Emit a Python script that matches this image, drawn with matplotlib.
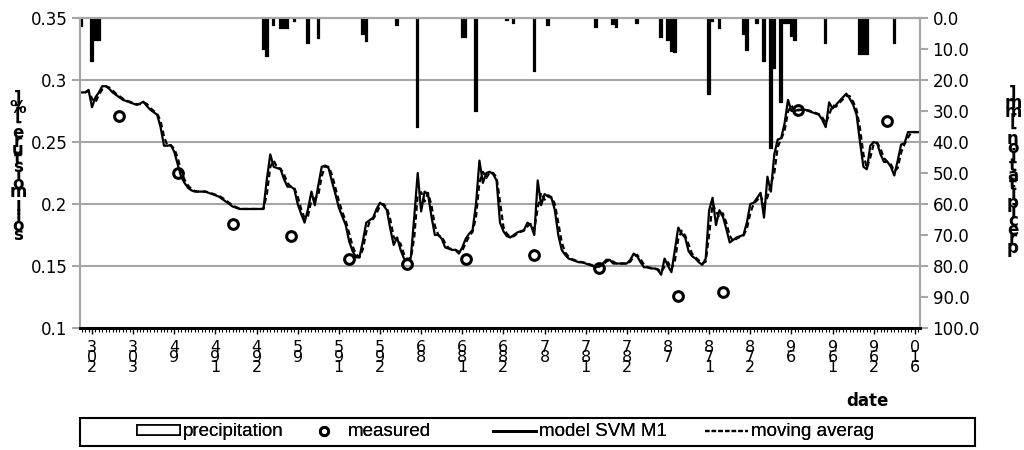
import matplotlib
matplotlib.use("Agg")
import matplotlib.pyplot as plt
from matplotlib.patches import Patch, Rectangle
from matplotlib.lines import Line2D
import numpy as np
import pandas as pd

# ---------------- data ----------------
model_svm = [
    0.290, 0.290, 0.292, 0.278, 0.286, 0.290, 0.295, 0.295, 0.293, 0.290,
    0.288, 0.286, 0.284, 0.283, 0.282, 0.281, 0.280, 0.281, 0.2825, 0.279,
    0.276, 0.274, 0.272, 0.262, 0.247, 0.247, 0.2475, 0.242, 0.232, 0.222,
    0.217, 0.213, 0.211, 0.210, 0.210, 0.210, 0.210, 0.209, 0.208, 0.207,
    0.206, 0.204, 0.202, 0.200, 0.198, 0.197, 0.196, 0.196, 0.196, 0.196,
    0.196, 0.196, 0.196, 0.196, 0.220, 0.240, 0.230, 0.229, 0.228, 0.220,
    0.214, 0.214, 0.212, 0.200, 0.192, 0.185, 0.196, 0.210, 0.199, 0.215,
    0.230, 0.231, 0.229, 0.218, 0.208, 0.197, 0.190, 0.183, 0.170, 0.162,
    0.157, 0.157, 0.170, 0.185, 0.187, 0.189, 0.196, 0.201, 0.199, 0.195,
    0.180, 0.167, 0.173, 0.163, 0.156, 0.155, 0.157, 0.190, 0.225, 0.194,
    0.210, 0.208, 0.190, 0.175, 0.175, 0.172, 0.165, 0.164, 0.163, 0.163,
    0.160, 0.165, 0.172, 0.176, 0.179, 0.200, 0.235, 0.217, 0.225, 0.226,
    0.224, 0.219, 0.185, 0.178, 0.174, 0.173, 0.175, 0.177, 0.178, 0.179,
    0.185, 0.183, 0.175, 0.219, 0.199, 0.208, 0.206, 0.205, 0.195, 0.175,
    0.163, 0.159, 0.156, 0.155, 0.154, 0.153, 0.153, 0.152, 0.151, 0.150,
    0.149, 0.150, 0.152, 0.155, 0.155, 0.152, 0.152, 0.152, 0.152, 0.152,
    0.155, 0.160, 0.158, 0.153, 0.149, 0.149, 0.148, 0.148, 0.147, 0.143,
    0.156, 0.150, 0.145, 0.163, 0.181, 0.176, 0.173, 0.162, 0.158, 0.156,
    0.153, 0.151, 0.156, 0.195, 0.205, 0.183, 0.195, 0.190, 0.180, 0.169,
    0.171, 0.173, 0.174, 0.175, 0.185, 0.200, 0.201, 0.205, 0.209, 0.189,
    0.222, 0.210, 0.240, 0.252, 0.253, 0.265, 0.284, 0.275, 0.275, 0.276,
    0.276, 0.276, 0.275, 0.274, 0.273, 0.272, 0.268, 0.262, 0.282, 0.277,
    0.280, 0.283, 0.286, 0.289, 0.285, 0.280, 0.272, 0.250, 0.230, 0.228,
    0.247, 0.250, 0.249, 0.240, 0.234, 0.234, 0.230, 0.223, 0.235, 0.248,
    0.249, 0.258, 0.258, 0.258, 0.258,
]

measured_day = [11, 28, 44, 61, 78, 95, 112, 132, 151, 174, 187, 209, 235]
measured_val = [0.271, 0.225, 0.184, 0.174, 0.156, 0.152, 0.156, 0.159,
                0.148, 0.126, 0.129, 0.276, 0.267]

precip_day = [0, 3, 4, 5, 53, 54, 56, 58, 59, 60, 62, 66, 69, 82, 83, 92, 98,
              111, 112, 115, 124, 126, 132, 136, 150, 155, 156, 162, 169, 171,
              172, 173, 183, 184, 186, 193, 194, 197, 199, 201, 202, 204, 205,
              206, 207, 208, 217, 227, 228, 229, 237]
precip_mm = [2.5, 14, 7, 7, 10, 12.3, 2.3, 3.2, 3.2, 3.2, 1.0, 8, 6.3, 5, 7.4,
             2.3, 35, 6, 6, 30, 0.7, 1.7, 17, 2.3, 2.8, 2, 2.8, 1.5, 6, 7,
             10.5, 11, 24.5, 1, 3.3, 5, 10.3, 1.7, 14, 42, 16, 27, 1.5,
             1.5, 5.8, 7, 8, 11.7, 11.7, 11.7, 8]

date_labels = ["302", "303", "49", "491", "492", "59", "591", "592", "68",
               "681", "682", "78", "781", "782", "87", "871", "872", "96",
               "961", "962", "016"]
label_day = [3 + 12 * k for k in range(len(date_labels))]

left_ticks = [0.1, 0.15, 0.2, 0.25, 0.3, 0.35]
left_tick_labels = ["0.1", "0.15", "0.2", "0.25", "0.3", "0.35"]
right_ticks = list(range(0, 101, 10))

legend_labels = ["precipitation", "measured", "model SVM M1", "moving averag"]

# moving average trendline (period 2) of the model series
moving_avg = pd.Series(model_svm).rolling(2).mean().to_numpy()

# ---------------- figure ----------------
W, H = 1024, 450
fig = plt.figure(figsize=(W / 100, H / 100), dpi=100)
ax = fig.add_axes([80 / W, 1 - 328 / H, 840 / W, 310 / H])
ax2 = ax.twinx()

GRAY = "#a6a6a6"
days = np.arange(len(model_svm))

ax.plot(days, model_svm, color="black", lw=1.6, zorder=3)
ax.plot(days, moving_avg, color="black", lw=1.6, ls=(0, (2.5, 1.5)), zorder=3)
ax.plot(measured_day, measured_val, ls="none", marker="o", ms=7,
        mfc="none", mec="black", mew=2.2, zorder=4)

ax.set_xlim(-0.5, len(model_svm) - 0.5)
ax.set_ylim(0.1, 0.35)
ax.set_yticks(left_ticks)
ax.set_yticklabels(left_tick_labels, fontsize=12)
ax.grid(axis="y", color=GRAY, lw=1.5)
ax.set_axisbelow(True)

ax.set_xticks(label_day)
ax.set_xticklabels(["\n".join(s) for s in date_labels], fontsize=11.5,
                   linespacing=0.58)
ax.set_xticks(days, minor=True)
ax.tick_params(axis="x", which="minor", length=3, width=0.8, color="black")
ax.tick_params(axis="x", which="major", length=4, width=1.0, color="black", pad=5)
ax.tick_params(axis="y", which="major", length=6, width=1.5, color=GRAY, pad=3)

for a in (ax, ax2):
    for side in ("top", "left", "right"):
        a.spines[side].set_color(GRAY)
        a.spines[side].set_linewidth(1.5)
    a.spines["bottom"].set_color("black")
    a.spines["bottom"].set_linewidth(2)

ax2.bar(precip_day, precip_mm, width=0.45, color="white", edgecolor="black",
        lw=1.6, zorder=2)
ax2.set_ylim(100, 0)
ax2.set_yticks(right_ticks)
ax2.set_yticklabels([f"{v:.1f}" for v in right_ticks], fontsize=12)
ax2.tick_params(axis="y", length=6, width=1.5, color=GRAY, pad=3)

# stacked axis titles
ylab_left = "\n".join(reversed("soil moisture [%]"))
ax.set_ylabel(ylab_left, rotation=0, fontsize=12, fontweight="bold",
              linespacing=0.32, va="center", ha="center")
ax.yaxis.set_label_coords(-62 / 840, (328 - 167) / 310)

ylab_right = "\n".join(reversed("precipitation [mm]"))
ax2.set_ylabel(ylab_right, rotation=0, fontsize=12, fontweight="bold",
               linespacing=0.36, va="center", ha="center")
ax2.yaxis.set_label_coords((1013 - 80) / 840, (328 - 171) / 310)

ax.set_xlabel("date", fontsize=12, fontweight="bold")
ax.xaxis.set_label_coords((867 - 80) / 840, (328 - 392) / 310)

# legend: frame box plus four entries
fig.add_artist(Rectangle((80 / W, 1 - 446 / H), 895 / W, 28 / H,
                         transform=fig.transFigure, fill=False,
                         ec="black", lw=1.5))
handles = [
    Patch(facecolor="white", edgecolor="black", lw=1.2),
    Line2D([], [], ls="none", marker="o", ms=6, mfc="none", mec="black", mew=2),
    Line2D([], [], color="black", lw=2),
    Line2D([], [], color="black", lw=1.6, ls=(0, (2, 1))),
]
entry_x = [137, 302, 493, 705]
for h, lab, ex in zip(handles, legend_labels, entry_x):
    lg = fig.legend([h], [lab], loc="center left",
                    bbox_to_anchor=(ex / W, 1 - 432 / H), frameon=False,
                    borderaxespad=0, borderpad=0, handlelength=2.3,
                    handleheight=0.5, handletextpad=0.15,
                    prop={"family": "Liberation Sans", "size": 13.5})
    fig.add_artist(lg)

fig.savefig("out.png", dpi=100)
